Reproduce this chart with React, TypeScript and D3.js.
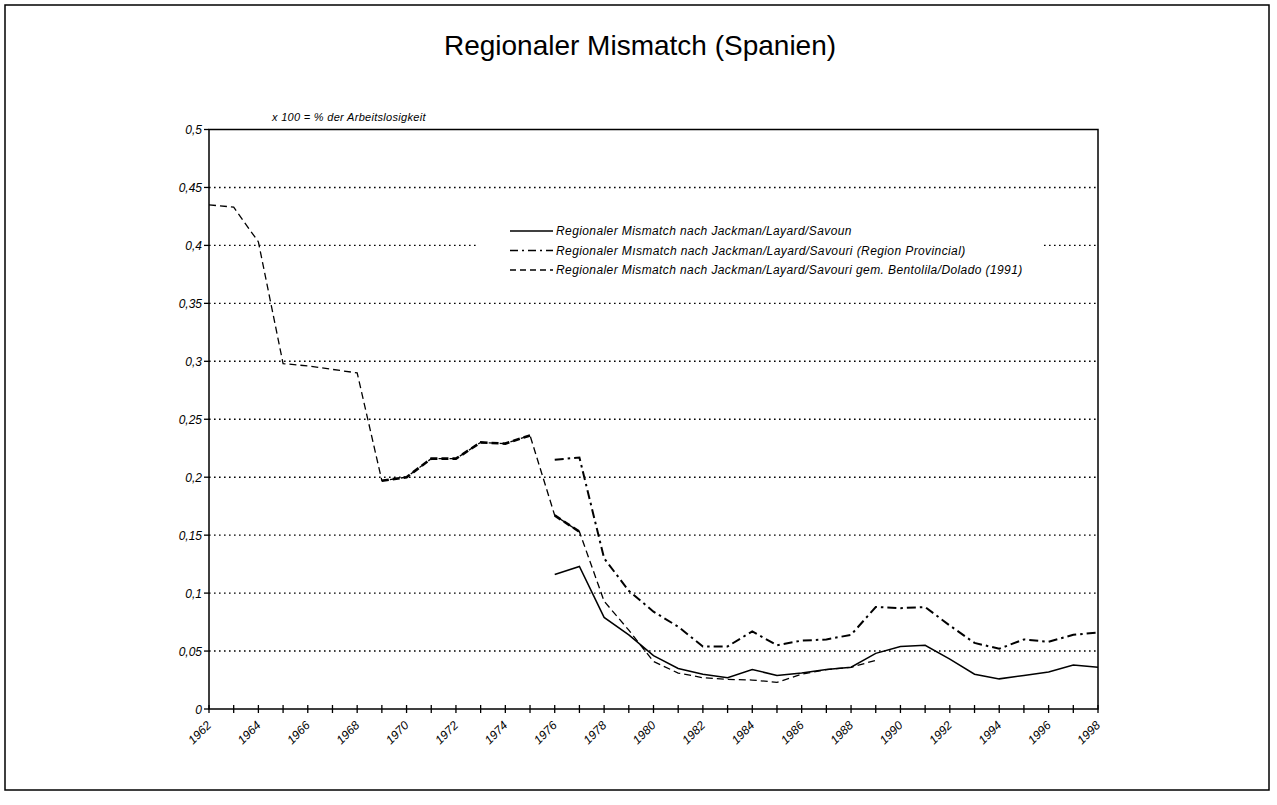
import React from "react";
import * as d3 from "d3";

const title = "Regionaler Mismatch (Spanien)";
const unitNote = "x 100 = % der Arbeitslosigkeit";

const yTicks = [0, 0.05, 0.1, 0.15, 0.2, 0.25, 0.3, 0.35, 0.4, 0.45, 0.5];
const yTickLabels = ["0", "0,05", "0,1", "0,15", "0,2", "0,25", "0,3", "0,35", "0,4", "0,45", "0,5"];
const xTickYears = [1962,1963,1964,1965,1966,1967,1968,1969,1970,1971,1972,1973,1974,1975,1976,1977,1978,1979,1980,1981,1982,1983,1984,1985,1986,1987,1988,1989,1990,1991,1992,1993,1994,1995,1996,1997,1998];
const xLabelYears = [1962,1964,1966,1968,1970,1972,1974,1976,1978,1980,1982,1984,1986,1988,1990,1992,1994,1996,1998];

// Series 1: Regionaler Mismatch nach Jackman/Layard/Savouri (solid)
const jlsYears = [1976,1977,1978,1979,1980,1981,1982,1983,1984,1985,1986,1987,1988,1989,1990,1991,1992,1993,1994,1995,1996,1997,1998];
const jlsValues = [0.116,0.123,0.079,0.064,0.046,0.035,0.030,0.027,0.034,0.029,0.031,0.034,0.036,0.048,0.054,0.055,0.043,0.030,0.026,0.029,0.032,0.038,0.036];

// Series 2: ... (Region Provincial) (dash-dot)
const provYears = [1976,1977,1978,1979,1980,1981,1982,1983,1984,1985,1986,1987,1988,1989,1990,1991,1992,1993,1994,1995,1996,1997,1998];
const provValues = [0.215,0.217,0.130,0.102,0.084,0.071,0.054,0.054,0.067,0.055,0.059,0.060,0.064,0.088,0.087,0.088,0.072,0.057,0.052,0.060,0.058,0.064,0.066];

// Series 3: ... gem. Bentolila/Dolado (1991) (dashed)
const bdYears = [1962,1963,1964,1965,1966,1967,1968,1969,1970,1971,1972,1973,1974,1975,1976,1977,1978,1979,1980,1981,1982,1983,1984,1985,1986,1987,1988,1989];
const bdValues = [0.435,0.433,0.403,0.298,0.296,0.293,0.290,0.197,0.200,0.216,0.216,0.230,0.229,0.236,0.167,0.153,0.093,0.068,0.041,0.031,0.027,0.0255,0.025,0.023,0.030,0.034,0.036,0.042];

const legendLabels = [
  "Regionaler Mismatch nach Jackman/Layard/Savoun",
  "Regionaler Mısmatch nach Jackman/Layard/Savouri (Region Provincial)",
  "Regionaler Mismatch nach Jackman/Layard/Savouri gem. Bentolila/Dolado (1991)",
];

// style: spans of the dashed series drawn heavier in the original
const boldSpans: [number, number][] = [[1969, 1975], [1976, 1977]];

const FONT = "'Liberation Sans', Arial, Helvetica, sans-serif";

export default function App() {
  const W = 1277, H = 805;
  const left = 209, right = 1098, top = 129.5, bottom = 709;
  const x = d3.scaleLinear().domain([1962, 1998]).range([left, right]);
  const y = d3.scaleLinear().domain([0, 0.5]).range([bottom, top]);

  const line = d3.line<[number, number]>().x(d => x(d[0])).y(d => y(d[1]));
  const zip = (ys: number[], vs: number[]) => ys.map((yr, i) => [yr, vs[i]] as [number, number]);

  const jls = zip(jlsYears, jlsValues);
  const prov = zip(provYears, provValues);
  const bd = zip(bdYears, bdValues);

  const legendDash = ["", "8,4,2,4", "6,4"];

  return (
    <svg width={W} height={H} style={{ position: "absolute", left: 0, top: 0, background: "#fff" }} fontFamily={FONT}>
      <rect x={0} y={0} width={W} height={H} fill="#fff" />
      <rect x={5} y={5} width={1264} height={785} fill="none" stroke="#000" strokeWidth={1.5} />
      <text x={640} y={55} textAnchor="middle" fontSize={28}>{title}</text>
      <text x={272} y={121} fontSize={11} fontStyle="italic" letterSpacing={0.3}>{unitNote}</text>

      {/* gridlines */}
      {yTicks.filter(v => v > 0 && v < 0.5).map(v => (
        <line key={"g" + v} x1={left} x2={right} y1={y(v)} y2={y(v)} stroke="#000" strokeWidth={1.4} strokeDasharray="1.6,3.4" />
      ))}

      {/* legend (white box hides gridline) */}
      <rect x={478} y={218} width={566} height={64} fill="#fff" />
      {legendLabels.map((lab, i) => {
        const ly = 231 + i * 19.5;
        return (
          <g key={lab}>
            <line x1={510} x2={553} y1={ly} y2={ly} stroke="#000" strokeWidth={1.4} strokeDasharray={legendDash[i] || undefined} />
            <text x={556} y={ly + 4} fontSize={12} fontStyle="italic" letterSpacing={0.4}>{lab}</text>
          </g>
        );
      })}

      {/* frame */}
      <rect x={left} y={top} width={right - left} height={bottom - top} fill="none" stroke="#000" strokeWidth={1.5} />

      {/* y ticks */}
      {yTicks.map((v, i) => (
        <g key={"y" + v}>
          <line x1={left - 5} x2={left} y1={y(v)} y2={y(v)} stroke="#000" strokeWidth={1.3} />
          <text x={left - 7} y={y(v) + 4.5} textAnchor="end" fontSize={12} fontStyle="italic">{yTickLabels[i]}</text>
        </g>
      ))}

      {/* x ticks */}
      {xTickYears.map(yr => (
        <line key={"x" + yr} x1={x(yr)} x2={x(yr)} y1={bottom - 4} y2={bottom + 4} stroke="#000" strokeWidth={1.3} />
      ))}
      {xLabelYears.map(yr => (
        <text key={"xl" + yr} transform={`translate(${x(yr) + 3},${bottom + 17}) rotate(-45)`} textAnchor="end" fontSize={12} fontStyle="italic">{yr}</text>
      ))}

      {/* series */}
      <path d={line(bd) || ""} fill="none" stroke="#000" strokeWidth={1.3} strokeDasharray="7,4" />
      {boldSpans.map(([a, b]) => (
        <path key={"b" + a} d={line(bd.filter(d => d[0] >= a && d[0] <= b)) || ""} fill="none" stroke="#000" strokeWidth={2.6} strokeDasharray="7,4" />
      ))}
      <path d={line(prov) || ""} fill="none" stroke="#000" strokeWidth={2} strokeDasharray="9,4,2.5,4" />
      <path d={line(jls) || ""} fill="none" stroke="#000" strokeWidth={1.5} />
    </svg>
  );
}
